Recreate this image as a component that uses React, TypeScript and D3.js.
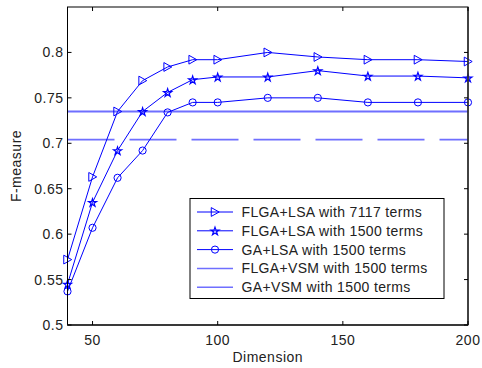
import React from "react";
import * as d3 from "d3";

const dims = [40, 50, 60, 70, 80, 90, 100, 120, 140, 160, 180, 200];
const flgaLsa7117 = [0.572, 0.663, 0.735, 0.769, 0.784, 0.792, 0.792, 0.8, 0.795, 0.792, 0.792, 0.79];
const flgaLsa1500 = [0.545, 0.635, 0.692, 0.735, 0.756, 0.77, 0.773, 0.773, 0.78, 0.774, 0.774, 0.772];
const gaLsa1500 = [0.537, 0.607, 0.662, 0.692, 0.734, 0.745, 0.745, 0.75, 0.75, 0.745, 0.745, 0.745];
const flgaVsm1500 = 0.735;
const gaVsm1500 = 0.704;
const xTicks = [50, 100, 150, 200];
const yTicks = [0.5, 0.55, 0.6, 0.65, 0.7, 0.75, 0.8];
const legendLabels = [
  "FLGA+LSA with 7117 terms",
  "FLGA+LSA with 1500 terms",
  "GA+LSA with 1500 terms",
  "FLGA+VSM with 1500 terms",
  "GA+VSM with 1500 terms",
];

const W = 482, H = 368;
const L = 67.5, R = 468, T = 7, B = 325;
const BLUE = "#0000ff";
const LIGHT = "#6f6fff";
const FONT = "Liberation Sans, Arial, sans-serif";

function Marker({ kind, x, y }: { kind: string; x: number; y: number }) {
  if (kind === "tri") {
    const s = 4.4;
    return <path d={`M${x - s * 0.85},${y - s}L${x + s * 0.95},${y}L${x - s * 0.85},${y + s}Z`} fill="none" stroke={BLUE} strokeWidth={1} />;
  }
  if (kind === "star") {
    const p = d3.symbol(d3.symbolStar, 20)();
    return <path d={p || ""} transform={`translate(${x},${y + 0.5})`} fill="none" stroke={BLUE} strokeWidth={1.2} />;
  }
  return <circle cx={x} cy={y} r={3.6} fill="none" stroke={BLUE} strokeWidth={1} />;
}

export default function App() {
  const x = d3.scaleLinear().domain([40, 200]).range([L, R]);
  const y = d3.scaleLinear().domain([0.5, 0.85]).range([B, T]);
  const line = d3.line<number>().x((_, i) => x(dims[i])).y((d) => y(d));
  const series = [
    { vals: flgaLsa7117, kind: "tri" },
    { vals: flgaLsa1500, kind: "star" },
    { vals: gaLsa1500, kind: "circ" },
  ];
  const lx = 190, ly = 198.5, lw = 254, lh = 100;
  const rowY = (i: number) => 212 + i * 18.8;
  const ls = 0.5;
  return (
    <svg width={W} height={H} style={{ position: "absolute", left: 0, top: 0, background: "#fff" }} fontFamily={FONT}>
      <rect x={0} y={0} width={W} height={H} fill="#fff" />
      <line x1={L} x2={R} y1={y(flgaVsm1500)} y2={y(flgaVsm1500)} stroke={LIGHT} strokeWidth={1.8} />
      <line x1={L} x2={R} y1={y(gaVsm1500)} y2={y(gaVsm1500)} stroke={LIGHT} strokeWidth={1.8} strokeDasharray="47,15" />
      {series.map((s, si) => (
        <g key={si}>
          <path d={line(s.vals) || ""} fill="none" stroke={BLUE} strokeWidth={1} />
          {s.vals.map((v, i) => (
            <Marker key={i} kind={s.kind} x={x(dims[i])} y={y(v)} />
          ))}
        </g>
      ))}
      <rect x={L} y={T} width={R - L} height={B - T} fill="none" stroke="#000" strokeWidth={1} />
      <line x1={R} x2={R} y1={T} y2={B} stroke="#333" strokeWidth={1.6} />
      <line x1={L} x2={R} y1={B} y2={B} stroke="#222" strokeWidth={1.4} />
      {xTicks.map((t) => (
        <g key={t}>
          <line x1={x(t)} x2={x(t)} y1={B} y2={B - 4} stroke="#000" />
          <line x1={x(t)} x2={x(t)} y1={T} y2={T + 4} stroke="#000" />
          <text x={x(t)} y={B + 20} textAnchor="middle" fontSize={14} letterSpacing={ls} fill="#222">{t}</text>
        </g>
      ))}
      {yTicks.map((t) => (
        <g key={t}>
          <line x1={L} x2={L + 4} y1={y(t)} y2={y(t)} stroke="#000" />
          <line x1={R} x2={R - 4} y1={y(t)} y2={y(t)} stroke="#000" />
          <text x={L - 4} y={y(t) + 5} textAnchor="end" fontSize={14} letterSpacing={ls} fill="#222">{t}</text>
        </g>
      ))}
      <text x={(L + R) / 2} y={362} textAnchor="middle" fontSize={14} letterSpacing={ls} fill="#222">Dimension</text>
      <text transform={`translate(21,${(T + B) / 2}) rotate(-90)`} textAnchor="middle" fontSize={14} letterSpacing={ls} fill="#222">F-measure</text>
      <rect x={lx} y={ly} width={lw} height={lh} fill="#fff" stroke="#000" strokeWidth={1} />
      {legendLabels.map((lab, i) => (
        <g key={i}>
          <line x1={197} x2={233} y1={rowY(i)} y2={rowY(i)} stroke={i < 3 ? BLUE : LIGHT} strokeWidth={i < 3 ? 1 : 1.5} />
          {i < 3 && <Marker kind={series[i].kind} x={215} y={rowY(i)} />}
          <text x={241.5} y={rowY(i) + 5} fontSize={14} letterSpacing={0.35} fill="#222">{lab}</text>
        </g>
      ))}
    </svg>
  );
}
